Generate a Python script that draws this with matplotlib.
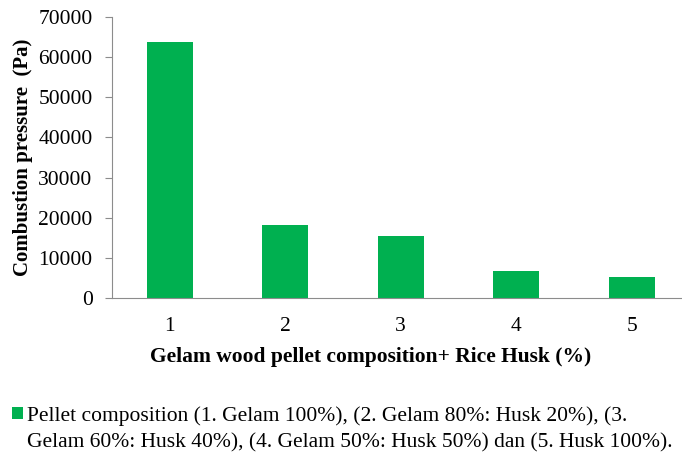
import matplotlib
matplotlib.use("Agg")
import matplotlib.pyplot as plt

categories = ["1", "2", "3", "4", "5"]
pressure = [63800, 18200, 15500, 6600, 5100]
legend_line1 = "Pellet composition (1. Gelam 100%), (2. Gelam 80%: Husk 20%), (3."
legend_line2 = "Gelam 60%: Husk 40%), (4. Gelam 50%: Husk 50%) dan (5. Husk 100%)."

BAR_COLOR = "#00B050"
AXIS_COLOR = "#8C8C8C"
FS = 15.5

plt.rcParams["font.family"] = ["Liberation Serif", "DejaVu Serif"]

fig = plt.figure(figsize=(6.82, 4.54), dpi=100)
# plot area runs past the right edge, as in the reference
ax = fig.add_axes([0.1642, 0.3443, 0.8468, 0.6176])

x = range(len(categories))
ax.bar(x, pressure, width=0.4, color=BAR_COLOR, label=legend_line1)

ax.set_xlim(-0.5, len(categories) - 0.5)
ax.set_ylim(0, 70000)
ax.set_yticks(range(0, 70001, 10000))
ax.set_xticks(list(x))
ax.set_xticklabels(categories)
ax.tick_params(axis="y", labelsize=FS, length=5, color=AXIS_COLOR, pad=9)
ax.tick_params(axis="x", labelsize=FS, length=0, pad=14)

for side in ["top", "right"]:
    ax.spines[side].set_visible(False)
for side in ["left", "bottom"]:
    ax.spines[side].set_color(AXIS_COLOR)

ax.set_ylabel("Combustion pressure  (Pa)", fontsize=15, fontweight="bold")
ax.yaxis.set_label_coords(-0.137, 0.5)
ax.set_xlabel("Gelam wood pellet composition+ Rice Husk (%)", fontsize=FS,
              fontweight="bold")
ax.xaxis.set_label_coords(0.447, -0.176)

leg = fig.legend(loc="upper left", bbox_to_anchor=(0.0176, 0.106), frameon=False,
                 fontsize=FS, handlelength=0.5, handleheight=0.5, handletextpad=0.2,
                 borderaxespad=0, borderpad=0)

fig.canvas.draw()
bb = leg.get_texts()[0].get_window_extent()
fig.text(bb.x0 / fig.bbox.width, (bb.y0 - 27) / fig.bbox.height, legend_line2,
         fontsize=FS, va="bottom", ha="left")

fig.savefig("out.png", dpi=100)
